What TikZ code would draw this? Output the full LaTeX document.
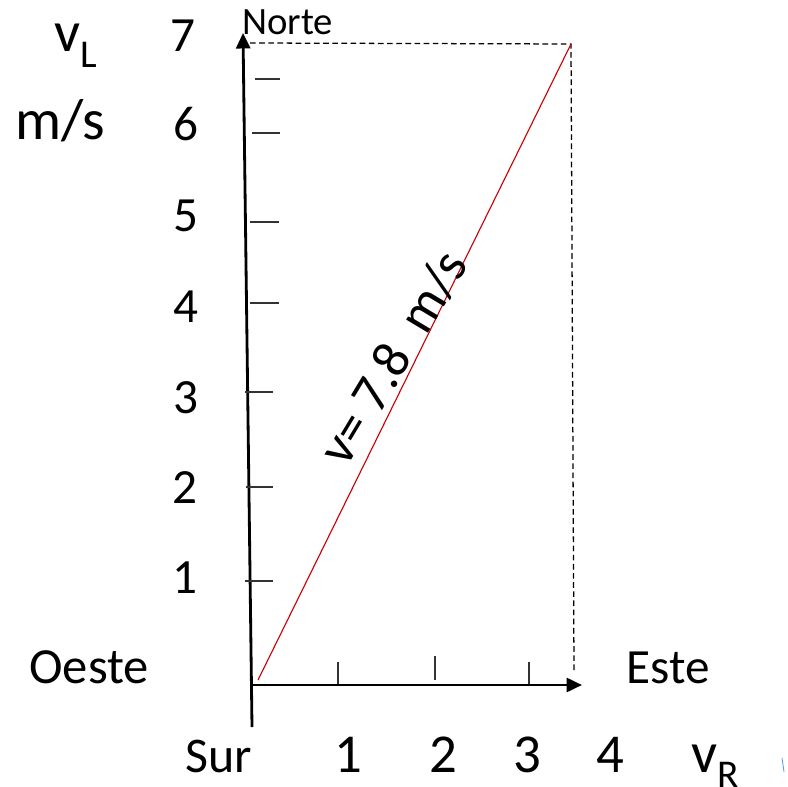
\documentclass[tikz,border=0pt]{standalone}
\usepackage{fontspec}
\setmainfont{Carlito}
\usetikzlibrary{arrows.meta}
\definecolor{vecred}{RGB}{204,0,0}
\definecolor{markblue}{RGB}{91,155,213}
\newcommand{\lowsub}[1]{\raisebox{-10.7pt}{\fontsize{28}{28}\selectfont #1}}

\begin{document}
\begin{tikzpicture}[
  x=0.025cm, y=-0.025cm,
  ax/.style={-{Triangle[length=11pt,width=10pt]}, line width=2pt},
  tk/.style={line width=0.9pt, black!80},
  gd/.style={line width=0.9pt, dash pattern=on 4pt off 2.5pt},
  lbl/.style={inner sep=0pt, font=\fontsize{35}{40}\selectfont}
]
\useasboundingbox (0,0) rectangle (787,787);
% axes
\coordinate (ybot) at (252,727);
\coordinate (ytop) at (243,33);
\coordinate (xleft) at (252,685);
\coordinate (xright) at (582,685);
\draw[ax] (ybot) -- (ytop);
\draw[ax] (xleft) -- (xright);
% ticks
\foreach \y/\l/\r in {79/255/280, 133/252/280, 222/250/279, 303/250/279, 392/245/273, 487/246/273, 581/245/273}
  \draw[tk] (\l,\y) -- (\r,\y);
\draw[tk] (338,662) -- (338,684);
\draw[tk] (435,656) -- (435,680);
\draw[tk] (529,662) -- (529,684);
% guide lines and vector
\coordinate (vstart) at (258,680);
\coordinate (vend) at (571,44);
\coordinate (ttop) at (250,43);
\coordinate (tbot) at (574,670);
\draw[gd] (ttop) -- (vend) -- (tbot);
\draw[vecred, line width=0.8pt] (vstart) -- (vend);
\node[lbl, rotate=59, font=\fontsize{38}{40}\selectfont] (vlab) at (393,358) {v= 7.8\ \ m/s};
% y labels
\foreach \n/\x/\y in {7/183/52, 6/186/141, 5/186/232, 4/186/322, 3/186/413, 2/185/503, 1/185/593}
  \node[lbl, anchor=base] (y\n) at (\x,\y) {\n};
% x labels
\foreach \n/\x in {1/348, 2/443, 3/527, 4/610}
  \node[lbl, anchor=base, font=\fontsize{39}{44}\selectfont] (x\n) at (\x,772) {\n};
% names
\node[lbl, anchor=base west, font=\fontsize{41}{44}\selectfont] (vl) at (54,52) {v\lowsub{L}};
\node[lbl, anchor=base west, font=\fontsize{41}{44}\selectfont] (ms) at (15,140) {m/s};
\node[lbl, anchor=base west, font=\fontsize{27.5}{30}\selectfont] (norte) at (242,35) {Norte};
\node[lbl, anchor=base west, font=\fontsize{36}{40}\selectfont] (oeste) at (29,683) {Oeste};
\node[lbl, anchor=base west] (este) at (626,683) {Este};
\node[lbl, anchor=base east, font=\fontsize{35.5}{40}\selectfont] (sur) at (252,772) {Sur};
\node[lbl, anchor=base west, font=\fontsize{41}{44}\selectfont] (vr) at (691,772) {v\lowsub{R}};
\draw[markblue, line width=0.6pt] (782,758) -- (784,772);
\end{tikzpicture}
\end{document}
